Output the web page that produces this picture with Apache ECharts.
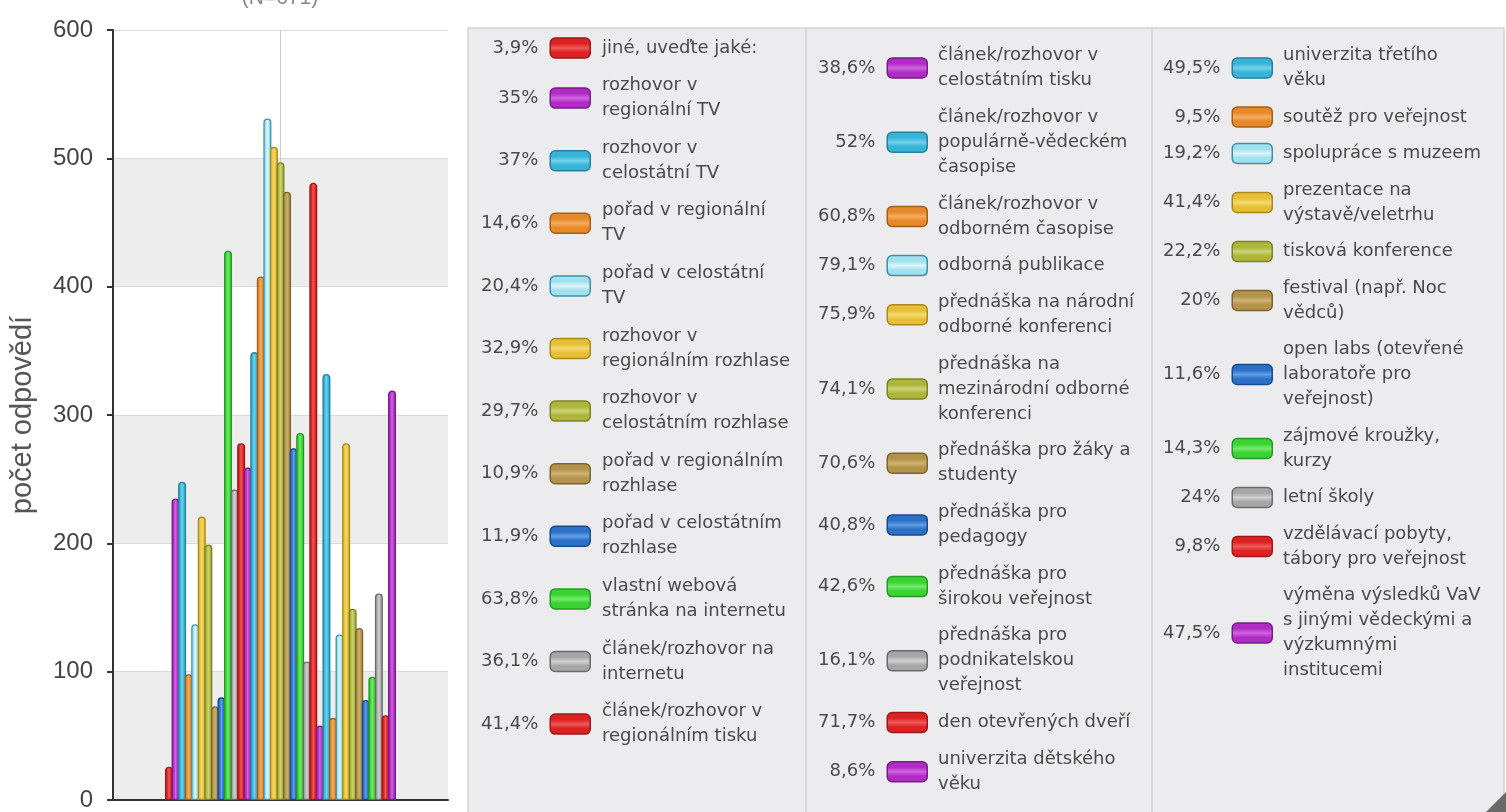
<!DOCTYPE html>
<html>
<head>
<meta charset="utf-8">
<script src="https://cdn.jsdelivr.net/npm/echarts@6/dist/echarts.min.js"></script>
<style>
html,body{margin:0;padding:0;background:#ffffff;}
#chart{width:1506px;height:812px;}
</style>
</head>
<body>
<div id="chart"></div>
<script>
// ---------- DATA ----------
const categories = [
  'jiné, uveďte jaké:',
  'rozhovor v regionální TV',
  'rozhovor v celostátní TV',
  'pořad v regionální TV',
  'pořad v celostátní TV',
  'rozhovor v regionálním rozhlase',
  'rozhovor v celostátním rozhlase',
  'pořad v regionálním rozhlase',
  'pořad v celostátním rozhlase',
  'vlastní webová stránka na internetu',
  'článek/rozhovor na internetu',
  'článek/rozhovor v regionálním tisku',
  'článek/rozhovor v celostátním tisku',
  'článek/rozhovor v populárně-vědeckém časopise',
  'článek/rozhovor v odborném časopise',
  'odborná publikace',
  'přednáška na národní odborné konferenci',
  'přednáška na mezinárodní odborné konferenci',
  'přednáška pro žáky a studenty',
  'přednáška pro pedagogy',
  'přednáška pro širokou veřejnost',
  'přednáška pro podnikatelskou veřejnost',
  'den otevřených dveří',
  'univerzita dětského věku',
  'univerzita třetího věku',
  'soutěž pro veřejnost',
  'spolupráce s muzeem',
  'prezentace na výstavě/veletrhu',
  'tisková konference',
  'festival (např. Noc vědců)',
  'open labs (otevřené laboratoře pro veřejnost)',
  'zájmové kroužky, kurzy',
  'letní školy',
  'vzdělávací pobyty, tábory pro veřejnost',
  'výměna výsledků VaV s jinými vědeckými a výzkumnými institucemi'
];

// legend display text (line breaks as in the reference)
const legendLabels = [
  'jiné, uveďte jaké:',
  'rozhovor v\nregionální TV',
  'rozhovor v\ncelostátní TV',
  'pořad v regionální\nTV',
  'pořad v celostátní\nTV',
  'rozhovor v\nregionálním rozhlase',
  'rozhovor v\ncelostátním rozhlase',
  'pořad v regionálním\nrozhlase',
  'pořad v celostátním\nrozhlase',
  'vlastní webová\nstránka na internetu',
  'článek/rozhovor na\ninternetu',
  'článek/rozhovor v\nregionálním tisku',
  'článek/rozhovor v\ncelostátním tisku',
  'článek/rozhovor v\npopulárně-vědeckém\nčasopise',
  'článek/rozhovor v\nodborném časopise',
  'odborná publikace',
  'přednáška na národní\nodborné konferenci',
  'přednáška na\nmezinárodní odborné\nkonferenci',
  'přednáška pro žáky a\nstudenty',
  'přednáška pro\npedagogy',
  'přednáška pro\nširokou veřejnost',
  'přednáška pro\npodnikatelskou\nveřejnost',
  'den otevřených dveří',
  'univerzita dětského\nvěku',
  'univerzita třetího\nvěku',
  'soutěž pro veřejnost',
  'spolupráce s muzeem',
  'prezentace na\nvýstavě/veletrhu',
  'tisková konference',
  'festival (např. Noc\nvědců)',
  'open labs (otevřené\nlaboratoře pro\nveřejnost)',
  'zájmové kroužky,\nkurzy',
  'letní školy',
  'vzdělávací pobyty,\ntábory pro veřejnost',
  'výměna výsledků VaV\ns jinými vědeckými a\nvýzkumnými\ninstitucemi'
];

// number of answers (bar heights)
const counts = [
  26, 235, 248, 98, 137, 221, 199, 73, 80, 428, 242, 278,
  259, 349, 408, 531, 509, 497, 474, 274, 286, 108, 481, 58,
  332, 64, 129, 278, 149, 134, 78, 96, 161, 66, 319
];

// percentage labels shown in the legend
const percents = [
  '3,9%', '35%', '37%', '14,6%', '20,4%', '32,9%', '29,7%', '10,9%', '11,9%', '63,8%', '36,1%', '41,4%',
  '38,6%', '52%', '60,8%', '79,1%', '75,9%', '74,1%', '70,6%', '40,8%', '42,6%', '16,1%', '71,7%', '8,6%',
  '49,5%', '9,5%', '19,2%', '41,4%', '22,2%', '20%', '11,6%', '14,3%', '24%', '9,8%', '47,5%'
];

const yTicks = [0, 100, 200, 300, 400, 500, 600];
const chartTitle = '(N=671)';
const yAxisName = 'počet odpovědí';

// ---------- STYLE ----------
const palette = [
  {base:'#dc2222', light:'#ee5a5a', border:'#9c1818'}, // red
  {base:'#b02cc4', light:'#d066e0', border:'#761d86'}, // purple
  {base:'#38b4d6', light:'#72d2ec', border:'#24809e'}, // cyan
  {base:'#e6892a', light:'#f4ad5e', border:'#a26016'}, // orange
  {base:'#a2e0ee', light:'#dcf5fb', border:'#3892aa'}, // light cyan
  {base:'#e6bf36', light:'#f4da70', border:'#a9891c'}, // yellow
  {base:'#adb63a', light:'#ccd374', border:'#7a8228'}, // olive
  {base:'#b3934a', light:'#cfb274', border:'#7b652e'}, // tan
  {base:'#2c71c8', light:'#629ee2', border:'#194a8a'}, // blue
  {base:'#3ad332', light:'#76ea6e', border:'#249a24'}, // green
  {base:'#a6a6a6', light:'#d2d2d2', border:'#6a6a6a'}  // gray
];
const legendFont = 'DejaVu Sans';
const axisFont = 'Liberation Sans, Arial, sans-serif';

const nameIndex = {};
categories.forEach((n, i) => { nameIndex[n] = i; });
const lineCount = legendLabels.map(l => l.split('\n').length);

function stripe(x2, y2, p, w) {
  return new echarts.graphic.LinearGradient(0, 0, x2, y2, [
    {offset: 0, color: p.base}, {offset: 0.5 - w, color: p.base},
    {offset: 0.5, color: p.light},
    {offset: 0.5 + w, color: p.base}, {offset: 1, color: p.base}
  ]);
}

const middle = Math.floor(categories.length / 2);
const series = categories.map((name, i) => {
  const p = palette[i % palette.length];
  return {
    type: 'bar',
    name: name,
    data: [counts[i]],
    barWidth: 8,
    barGap: '-18%',
    animation: false,
    emphasis: {disabled: true},
    itemStyle: {
      color: stripe(1, 0, p, 0.25),
      borderColor: p.border,
      borderWidth: 1.3,
      borderRadius: [4, 4, 0, 0]
    }
  };
});
// thin vertical guide line through the centre of the bar group
series[middle].markLine = {
  silent: true, symbol: 'none', z: 1, animation: false,
  label: {show: false},
  lineStyle: {color: '#c9c9c9', width: 1, type: 'solid'},
  data: [{xAxis: 0}]
};

const columns = [
  {from: 0, to: 12, swatchRight: 591, textLeft: 602, top: 35.5, gap: 12.6},
  {from: 12, to: 24, swatchRight: 928, textLeft: 938, top: 43, gap: 11.7},
  {from: 24, to: 35, swatchRight: 1273, textLeft: 1283, top: 43, gap: 11.5}
];

const legends = [];
columns.forEach(c => {
  const names = categories.slice(c.from, c.to);
  // percentages + colour swatch
  legends.push({
    orient: 'vertical', align: 'right',
    right: 1506 - c.swatchRight, top: c.top, padding: 0,
    itemGap: c.gap, itemWidth: 40, itemHeight: 20, icon: 'roundRect',
    selectedMode: false,
    textStyle: {fontFamily: legendFont, fontSize: 18, color: '#4a4a4a', padding: [0, 7, 0, 0]},
    formatter: name => percents[nameIndex[name]],
    data: names.map(name => {
      const i = nameIndex[name];
      const p = palette[i % palette.length];
      return {
        name: name,
        textStyle: {lineHeight: 25 * lineCount[i]},
        itemStyle: {color: stripe(0, 1, p, 0.2), borderColor: p.border, borderWidth: 1.5}
      };
    })
  });
  // names
  legends.push({
    orient: 'vertical', align: 'left',
    left: c.textLeft - 6, top: c.top, padding: 0,
    itemGap: c.gap, itemWidth: 1, itemHeight: 20, icon: 'rect',
    selectedMode: false,
    itemStyle: {color: 'transparent', borderColor: 'transparent', borderWidth: 0, opacity: 0},
    textStyle: {fontFamily: legendFont, fontSize: 18, color: '#4a4a4a', lineHeight: 25},
    formatter: name => legendLabels[nameIndex[name]],
    data: names
  });
});

const chart = echarts.init(document.getElementById('chart'), null, {renderer: 'canvas'});
chart.setOption({
  backgroundColor: '#ffffff',
  animation: false,
  title: {
    text: chartTitle, left: 280, top: -12, textAlign: 'center', padding: 0,
    textStyle: {fontFamily: axisFont, fontSize: 21, fontWeight: 'normal', color: '#888'}
  },
  graphic: [
    {type: 'rect', silent: true, z: 0, shape: {x: 468, y: 28, width: 1036, height: 800},
     style: {fill: '#ececef', stroke: '#d2d2d6', lineWidth: 1.5}},
    {type: 'line', silent: true, z: 0, shape: {x1: 806, y1: 28, x2: 806, y2: 812},
     style: {stroke: '#cfcfd3', lineWidth: 1.5}},
    {type: 'line', silent: true, z: 0, shape: {x1: 1152, y1: 28, x2: 1152, y2: 812},
     style: {stroke: '#cfcfd3', lineWidth: 1.5}},
    {type: 'polygon', silent: true, z: 1, shape: {points: [[1506, 792], [1506, 812], [1486, 812]]},
     style: {fill: '#6a6a6a'}}
  ],
  legend: legends,
  grid: {left: 113, right: 1058, top: 30, bottom: 10, containLabel: false},
  xAxis: {
    type: 'category', data: [''],
    axisLine: {show: true, lineStyle: {color: '#333', width: 2}},
    axisTick: {show: false}, axisLabel: {show: false}, splitLine: {show: false}
  },
  yAxis: {
    type: 'value', min: yTicks[0], max: yTicks[yTicks.length - 1], interval: 100,
    name: yAxisName, nameLocation: 'middle', nameRotate: 90, nameGap: 76,
    nameTextStyle: {fontFamily: axisFont, fontSize: 29, color: '#555'},
    axisLine: {show: true, lineStyle: {color: '#333', width: 2}},
    axisTick: {show: true, length: 6, lineStyle: {color: '#333', width: 2}},
    axisLabel: {fontFamily: axisFont, fontSize: 24, color: '#444', margin: 20},
    splitLine: {show: true, lineStyle: {color: '#d9d9d9', width: 1}},
    splitArea: {show: true, areaStyle: {color: ['#ededed', '#ffffff']}}
  },
  series: series
});
</script>
</body>
</html>
